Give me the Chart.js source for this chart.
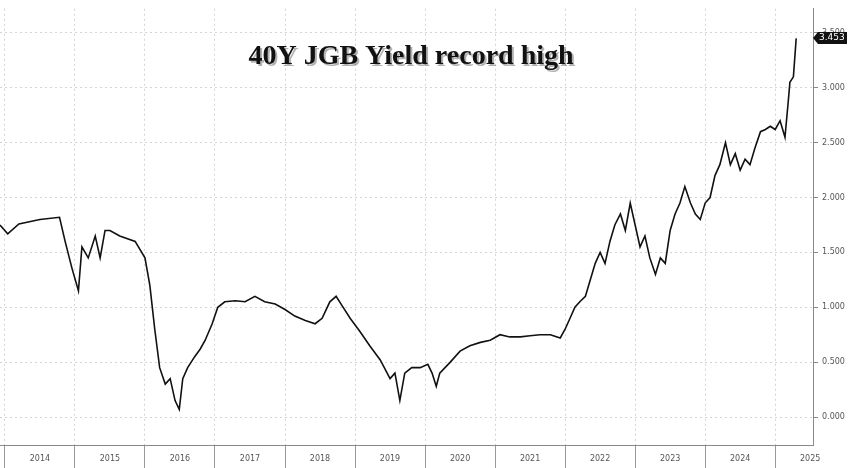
<!DOCTYPE html>
<html><head><meta charset="utf-8">
<script src="https://cdn.jsdelivr.net/npm/chart.js@4"></script>
<style>html,body{margin:0;padding:0;background:#fff}#w{width:848px;height:468px}</style>
</head><body><div id="w"><canvas id="c"></canvas></div>
<script>
const title = "40Y JGB Yield record high";
const lastLabel = "3.453";
const yTicks = [0,0.5,1,1.5,2,2.5,3,3.5];
const years = [2014,2015,2016,2017,2018,2019,2020,2021,2022,2023,2024,2025];
const dates = [2013.93,2014.04,2014.2,2014.5,2014.78,2014.86,2014.96,2015.05,2015.1,2015.19,2015.29,2015.36,2015.43,2015.5,2015.64,2015.86,2016.0,2016.07,2016.14,2016.21,2016.29,2016.36,2016.43,2016.49,2016.54,2016.61,2016.71,2016.79,2016.86,2016.96,2017.04,2017.14,2017.29,2017.43,2017.57,2017.71,2017.86,2018.0,2018.14,2018.29,2018.43,2018.53,2018.64,2018.73,2018.81,2018.93,2019.07,2019.21,2019.36,2019.5,2019.57,2019.64,2019.71,2019.81,2019.93,2020.04,2020.1,2020.16,2020.21,2020.36,2020.5,2020.64,2020.79,2020.93,2021.07,2021.21,2021.36,2021.5,2021.64,2021.79,2021.93,2022.0,2022.07,2022.14,2022.21,2022.29,2022.36,2022.43,2022.5,2022.57,2022.64,2022.71,2022.79,2022.86,2022.93,2023.0,2023.07,2023.14,2023.21,2023.29,2023.36,2023.43,2023.5,2023.57,2023.64,2023.71,2023.79,2023.86,2023.93,2024.0,2024.07,2024.14,2024.21,2024.29,2024.36,2024.43,2024.5,2024.57,2024.64,2024.71,2024.79,2024.86,2024.93,2025.0,2025.07,2025.14,2025.19,2025.21,2025.26,2025.3];
const yields = [1.75,1.67,1.76,1.80,1.82,1.60,1.35,1.15,1.55,1.45,1.65,1.45,1.70,1.70,1.65,1.60,1.45,1.20,0.80,0.45,0.30,0.35,0.15,0.07,0.35,0.45,0.55,0.62,0.70,0.85,1.00,1.05,1.06,1.05,1.10,1.05,1.03,0.98,0.92,0.88,0.85,0.90,1.05,1.10,1.02,0.90,0.78,0.65,0.52,0.35,0.40,0.15,0.40,0.45,0.45,0.48,0.40,0.28,0.40,0.50,0.60,0.65,0.68,0.70,0.75,0.73,0.73,0.74,0.75,0.75,0.72,0.80,0.90,1.00,1.05,1.10,1.25,1.40,1.50,1.40,1.60,1.75,1.85,1.70,1.95,1.75,1.55,1.65,1.45,1.30,1.45,1.40,1.70,1.85,1.95,2.10,1.95,1.85,1.80,1.95,2.00,2.20,2.30,2.50,2.30,2.40,2.25,2.35,2.30,2.45,2.60,2.62,2.65,2.62,2.70,2.55,2.90,3.05,3.10,3.45];
const pts = dates.map((d,i)=>({x:d,y:yields[i]}));
const deco = {id:'deco',afterDraw(ch){
  const c=ch.ctx, y=ch.scales.y, a=ch.chartArea;
  c.save();
  c.font='bold 28px "Liberation Serif"';c.textAlign='center';c.textBaseline='middle';
  c.fillStyle='rgba(0,0,0,0.3)';c.fillText(title,413,59);
  c.fillStyle='#111';c.fillText(title,411,57);
  const py=y.getPixelForValue(3.453);
  c.fillStyle='#111';c.beginPath();c.moveTo(a.right,py);c.lineTo(a.right+5,py-6);c.lineTo(a.right+34,py-6);c.lineTo(a.right+34,py+6);c.lineTo(a.right+5,py+6);c.closePath();c.fill();
  c.font='9px "DejaVu Sans"';c.fillStyle='#fff';c.textAlign='left';c.fillText(lastLabel,a.right+6,py);
  c.restore();}};
new Chart(document.getElementById('c'),{type:'line',
 data:{datasets:[{data:pts,borderColor:'#111',borderWidth:1.6,pointRadius:0,tension:0}]},
 options:{responsive:true,maintainAspectRatio:false,animation:false,
  plugins:{legend:{display:false},tooltip:{enabled:false}},
  scales:{
   x:{type:'linear',min:2013.93,max:2025.54,
     afterBuildTicks(s){s.ticks=years.map(v=>({value:v}));},
     afterFit(s){s.height=23;},
     ticks:{callback:v=>String(v),labelOffset:35,maxRotation:0,autoSkip:false,color:'#555',font:{family:'DejaVu Sans',size:8},padding:-14},
     grid:{color:'#d4d4d4',tickLength:23,tickColor:'#999',tickBorderDash:[]},
     border:{color:'#888',dash:[2,3]}},
   y:{position:'right',min:-0.255,max:3.72,
     afterBuildTicks(s){s.ticks=yTicks.map(v=>({value:v}));},
     afterFit(s){s.width=35;},
     ticks:{callback:v=>v.toFixed(3),color:'#555',font:{family:'DejaVu Sans',size:8},padding:4},
     grid:{color:'#d4d4d4',tickLength:5,tickColor:'#888',tickBorderDash:[]},
     border:{color:'#888',dash:[2,3]}}
  }},plugins:[deco]});
</script></body></html>
